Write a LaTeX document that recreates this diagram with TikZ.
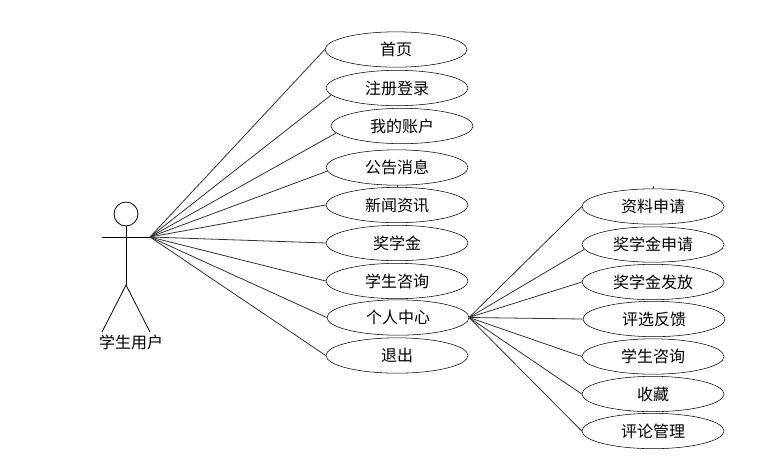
\documentclass[tikz,border=0pt]{standalone}
\usepackage{fontspec}
\setmainfont{Noto Sans CJK SC}
\usetikzlibrary{shapes.geometric}
\tikzset{
  usecase/.style={draw, ellipse, minimum width=106.5pt, minimum height=26.5pt, inner sep=0pt, font=\fontsize{12pt}{14pt}\selectfont},
  link/.style={line width=0.6pt, black!80},
  actor/.style={line width=0.6pt}
}

\begin{document}
\begin{tikzpicture}[x=0.75pt, y=-0.75pt]
\useasboundingbox (0,0) rectangle (784,472);

% Student actor
\draw[actor] (126,214) circle (12);
\draw[actor] (126,226) -- (126,285);
\draw[actor] (102,237) -- (150,237);
\draw[actor] (102,332) -- (126,285) -- (150,332);
\coordinate (hand) at (150,237);
\node[font=\fontsize{12pt}{14pt}\selectfont] (student) at (131,342) {学生用户};

% Main functions
\node[usecase] (home) at (396,49.5) {首页};
\node[usecase] (login) at (397,88) {注册登录};
\node[usecase] (account) at (402,126) {我的账户};
\node[usecase] (notice) at (397,167.5) {公告消息};
\node[usecase] (news) at (397,205) {新闻资讯};
\node[usecase] (award) at (397,243) {奖学金};
\node[usecase] (consult) at (397,281) {学生咨询};
\node[usecase] (center) at (398,317.5) {个人中心};
\node[usecase] (quit) at (397,355.5) {退出};

\draw[link] (hand) -- (home.west);
\draw[link] (hand) -- (login.186);
\draw[link] (hand) -- (account.186);
\draw[link] (hand) -- (notice.183);
\draw[link] (hand) -- (news.west);
\draw[link] (hand) -- (award.west);
\draw[link] (hand) -- (consult.west);
\draw[link] (hand) -- (center.west);
\draw[link] (hand) -- (quit.west);

% Personal center functions
\coordinate (hub) at (469,317.5);
\node[usecase] (apply) at (653,206.5) {资料申请};
\node[usecase] (awardapply) at (653,244.5) {奖学金申请};
\node[usecase] (awardpay) at (653,282) {奖学金发放};
\node[usecase] (feedback) at (654,319) {评选反馈};
\node[usecase] (consultb) at (653,356.5) {学生咨询};
\node[usecase] (favorite) at (653,394) {收藏};
\node[usecase] (comment) at (653,431) {评论管理};

\draw[link] (hub) -- (apply.west);
\draw[link] (hub) -- (awardapply.184);
\draw[link] (hub) -- (awardpay.west);
\draw[link] (hub) -- (feedback.west);
\draw[link] (hub) -- (consultb.west);
\draw[link] (hub) -- (favorite.west);
\draw[link] (hub) -- (comment.west);

% Small ticks
\draw[link] (notice.south) -- (news.north);
\draw[link] (apply.north) -- ++(0,-3);
\end{tikzpicture}
\end{document}
